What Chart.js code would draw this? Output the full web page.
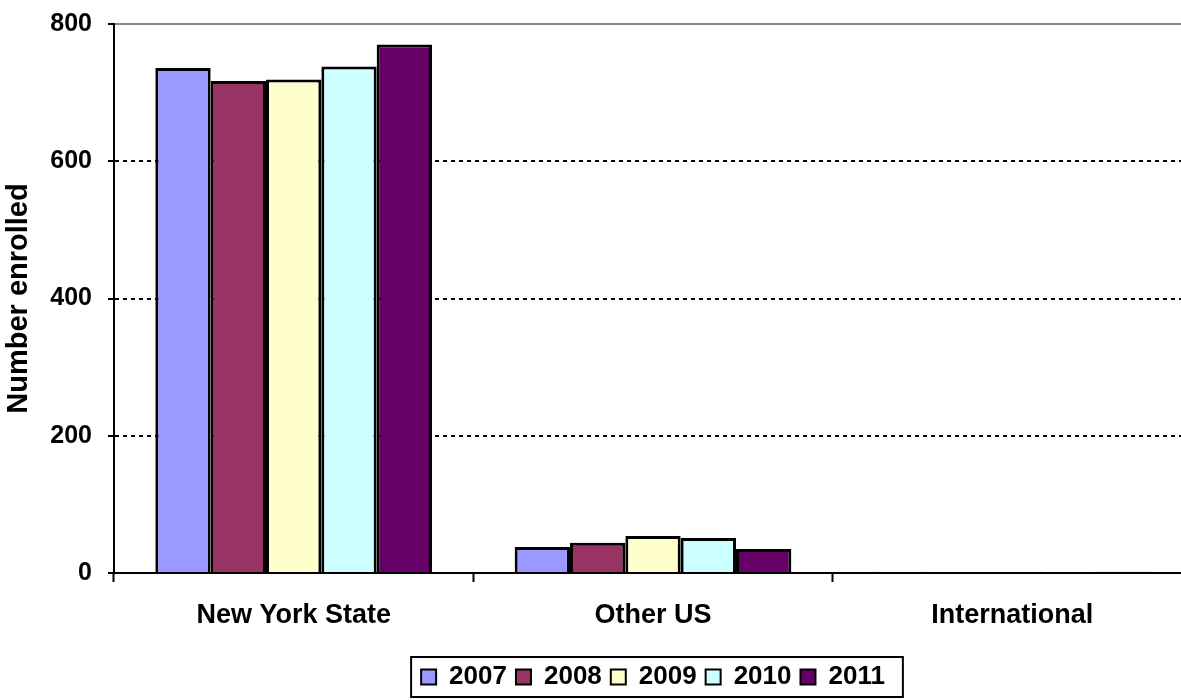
<!DOCTYPE html>
<html>
<head>
<meta charset="utf-8">
<script src="https://cdn.jsdelivr.net/npm/chart.js@4"></script>
<style>
    html, body {
        margin: 0;
        padding: 0;
        overflow: hidden;
        background: #ffffff;
    }
    #contenedor {
        width: 1193px;
        height: 700px;
    }
</style>
</head>
<body>
<div id="contenedor">
    <canvas id="matriculaChart"></canvas>
</div>
<script>

const categorias = ["New York State", "Other US", "International"];

const anios = ["2007", "2008", "2009", "2010", "2011"];

const valores2007 = [736, 38, 2];
const valores2008 = [717, 44, 0];
const valores2009 = [719, 54, 0];
const valores2010 = [738, 51, 2];
const valores2011 = [770, 35, 2];

const colores = ["#9999FF", "#993366", "#FFFFCC", "#CCFFFF", "#660066"];

const ticksY = [0, 200, 400, 600, 800];

const series = [valores2007, valores2008, valores2009, valores2010, valores2011];

const fuente = "'Liberation Sans', Arial, sans-serif";

// marco negro alrededor de la leyenda
const marcoLeyenda = {
    id: "marcoLeyenda",
    afterDraw(chart) {
        const legend = chart.legend;
        const cajas = legend.legendHitBoxes;
        if (!cajas || !cajas.length) return;

        const izq = Math.min(...cajas.map(c => c.left)) - 10;
        const der = Math.max(...cajas.map(c => c.left + c.width)) + 18;
        const centro = cajas[0].top + cajas[0].height / 2;

        const ctx = chart.ctx;
        ctx.save();
        ctx.strokeStyle = "#000000";
        ctx.lineWidth = 2;
        ctx.strokeRect(izq, centro - 20, der - izq, 40);
        ctx.restore();
    }
};

const ctx = document.getElementById("matriculaChart");

new Chart(ctx, {

    type: "bar",

    data: {

        labels: categorias,

        datasets: anios.map((anio, i) => ({
            label: anio,
            data: series[i],
            backgroundColor: colores[i],
            borderColor: "#000000",
            borderWidth: 3,
            categoryPercentage: 0.77,
            barPercentage: 1.0
        }))
    },

    options: {

        responsive: true,
        maintainAspectRatio: false,
        animation: false,

        layout: {
            padding: {
                top: 24,
                right: 1,
                bottom: 0,
                left: 0
            }
        },

        plugins: {

            tooltip: {
                enabled: false
            },

            legend: {
                position: "bottom",
                fullSize: false,
                labels: {
                    color: "#000000",
                    boxWidth: 15,
                    boxHeight: 15,
                    padding: 9,
                    font: {
                        family: fuente,
                        size: 26,
                        weight: "bold",
                        lineHeight: 1.0
                    },
                    generateLabels: chart => chart.data.datasets.map((d, i) => ({
                        text: d.label,
                        fillStyle: d.backgroundColor,
                        strokeStyle: "#000000",
                        lineWidth: 2,
                        fontColor: "#000000",
                        datasetIndex: i
                    }))
                }
            }
        },

        scales: {

            x: {

                afterFit: scale => {
                    scale.height = 82;
                    scale.paddingLeft = 0;
                    scale.paddingRight = 0;
                },

                border: {
                    display: true,
                    color: "#000000",
                    width: 2
                },

                grid: {
                    offset: true,
                    drawOnChartArea: false,
                    drawTicks: true,
                    tickLength: 9,
                    tickColor: "#000000",
                    tickWidth: 2
                },

                ticks: {
                    color: "#000000",
                    padding: 17,
                    font: {
                        family: fuente,
                        size: 27,
                        weight: "bold"
                    }
                }
            },

            y: {

                min: 0,
                max: 800,

                afterFit: scale => {
                    scale.width = 114;
                    scale.paddingTop = 0;
                    scale.paddingBottom = 0;
                },

                afterBuildTicks: scale => {
                    scale.ticks = ticksY.map(v => ({ value: v }));
                },

                border: {
                    display: true,
                    color: "#000000",
                    width: 2,
                    dash: c => (c.tick && c.tick.value === 800) ? [] : [4, 4]
                },

                grid: {
                    color: c => {
                        if (!c.tick) return "#000000";
                        if (c.tick.value === 0) return "rgba(0,0,0,0)";
                        if (c.tick.value === 800) return "#8a8a8a";
                        return "#000000";
                    },
                    lineWidth: 2,
                    drawTicks: true,
                    tickLength: 6,
                    tickColor: "#000000",
                    tickWidth: 2
                },

                ticks: {
                    color: "#000000",
                    padding: 16,
                    font: {
                        family: fuente,
                        size: 25,
                        weight: "bold"
                    }
                },

                title: {
                    display: true,
                    text: "Number enrolled",
                    color: "#000000",
                    padding: { top: 2, bottom: 0 },
                    font: {
                        family: fuente,
                        size: 29,
                        weight: "bold"
                    }
                }
            }
        }
    },

    plugins: [marcoLeyenda]
});

</script>
</body>
</html>
